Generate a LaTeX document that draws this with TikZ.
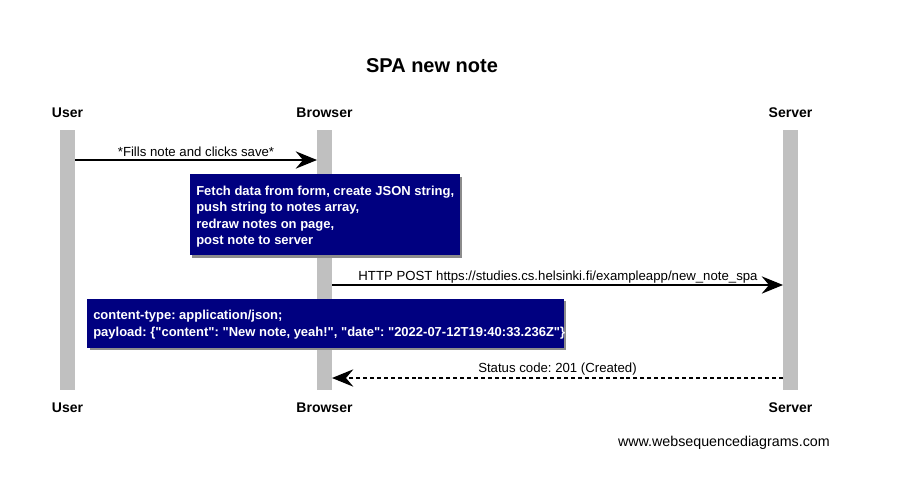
\documentclass[tikz,border=0pt]{standalone}
\usepackage{fontspec}
\setmainfont{Liberation Sans}[Ligatures=TeXOff]
\usetikzlibrary{arrows.meta}
\definecolor{notebg}{HTML}{000080}
\definecolor{barcol}{HTML}{C0C0C0}
\frenchspacing
\begin{document}
\begin{tikzpicture}[x=0.75pt,y=-0.75pt,
  actor/.style={font=\fontsize{10.5pt}{12pt}\selectfont\bfseries, inner sep=0pt},
  lifebar/.style={fill=barcol, draw=none, minimum width=11.25pt, minimum height=195pt, inner sep=0pt, anchor=north},
  msg/.style={line width=1.1pt, -{Stealth[length=16pt,width=13pt,inset=5.5pt]}},
  msglabel/.style={font=\fontsize{9.9pt}{11pt}\selectfont, inner sep=0pt},
  notebox/.style={fill=notebg, draw=none, anchor=north west, inner sep=0pt},
  notetext/.style={text=white, font=\fontsize{9.75pt}{12.3pt}\selectfont\bfseries, align=left, anchor=west, inner sep=0pt},
  shadowbox/.style={fill=black!45, draw=none, anchor=north west, inner sep=0pt}
]
\useasboundingbox (0,0) rectangle (898,492);
\fill[white] (0,0) rectangle (898,492);

\node[font=\fontsize{15pt}{18pt}\selectfont\bfseries, inner sep=0pt] (title) at (432,66) {SPA new note};

% lifelines
\node[lifebar] (ubar) at (67.5,130) {};
\node[lifebar] (bbar) at (324.5,130) {};
\node[lifebar] (sbar) at (790.5,130) {};

\node[actor] (utop) at (67.5,113) {User};
\node[actor] (btop) at (324.5,113) {Browser};
\node[actor] (stop) at (790.5,113) {Server};
\node[actor] (ubot) at (67.5,408) {User};
\node[actor] (bbot) at (324.5,408) {Browser};
\node[actor] (sbot) at (790.5,408) {Server};

% message 1
\coordinate (m1a) at (75,160);
\coordinate (m1b) at (317,160);
\draw[msg] (m1a) -- (m1b);
\node[msglabel] (l1) at (196,152) {*Fills note and clicks save*};

% note 1
\node[shadowbox, minimum width=202.5pt, minimum height=60.75pt] (n1s) at (192,176.5) {};
\node[notebox, minimum width=202.5pt, minimum height=60.75pt] (n1) at (189.5,174) {};
\node[notetext] (n1t) at (196,216.5)
  {Fetch data from form, create JSON string,\\push string to notes array,\\redraw notes on page,\\post note to server};

% message 2
\coordinate (m2a) at (332,285);
\coordinate (m2b) at (783,285);
\draw[msg] (m2a) -- (m2b);
\node[msglabel] (l2) at (558,277) {HTTP POST https://studies.cs.helsinki.fi/exampleapp/new\_note\_spa};

% note 2
\node[shadowbox, minimum width=357.5pt, minimum height=36.75pt] (n2s) at (89.5,300.8) {};
\node[notebox, minimum width=357.5pt, minimum height=36.75pt] (n2) at (87,298.3) {};
\node[notetext] (n2t) at (93,324.8)
  {content-type: application/json;\\payload: \{"content": "New note, yeah!", "date": "2022-07-12T19:40:33.236Z"\}};

% message 3
\coordinate (m3a) at (783,378);
\coordinate (m3b) at (332,378);
\draw[msg, dash pattern=on 3pt off 2.2pt] (m3a) -- (m3b);
\node[msglabel] (l3) at (557.5,369) {Status code: 201 (Created)};

\node[font=\fontsize{10.7pt}{12pt}\selectfont, inner sep=0pt, anchor=east] (footer) at (830,443) {www.websequencediagrams.com};
\end{tikzpicture}
\end{document}
